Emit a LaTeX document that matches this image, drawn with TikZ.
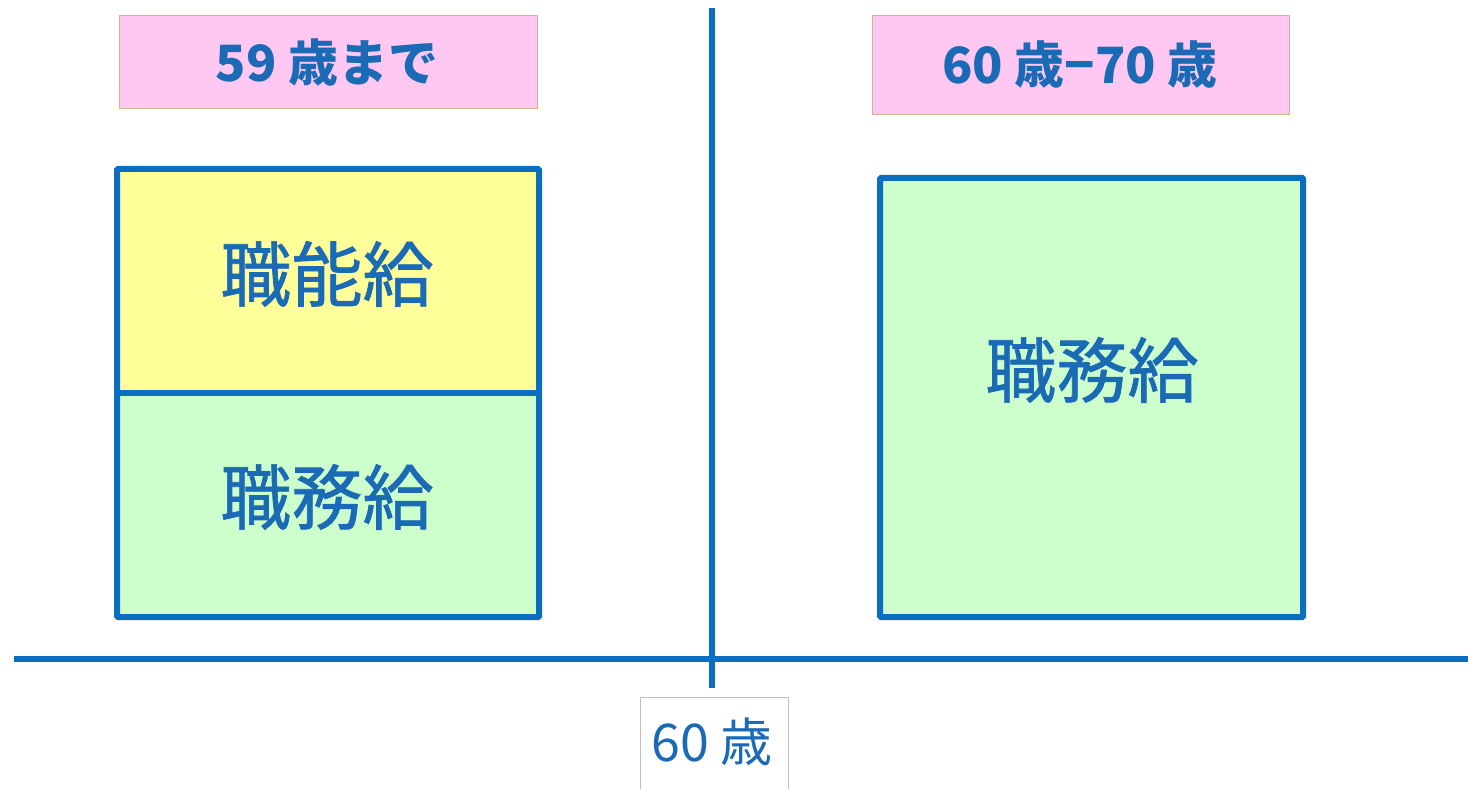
\documentclass[tikz,border=0pt]{standalone}
\usepackage{fontspec}
\newfontfamily\cjk{Noto Sans CJK JP}
\newfontfamily\cjkmed[FakeBold=1.0]{Noto Sans CJK JP}
\definecolor{lineblue}{HTML}{0A6EC0}
\definecolor{textblue}{HTML}{1A6AB5}
\definecolor{pinkfill}{HTML}{FFC8F2}
\definecolor{pinkedge}{HTML}{D2B48C}
\definecolor{yellowfill}{HTML}{FFFF99}
\definecolor{greenfill}{HTML}{CCFFCC}
\begin{document}
\begin{tikzpicture}[x=1pt,y=-1pt,
  agebox/.style={draw=pinkedge, line width=1pt, fill=pinkfill},
  paybox/.style={draw=lineblue, line width=6pt, rounded corners=1pt},
  axis/.style={draw=lineblue, line width=6pt},
  lbl/.style={text=textblue},
  headfont/.style={font=\cjk\bfseries\fontsize{50}{54}\selectfont},
  bodyfont/.style={font=\cjkmed\fontsize{71}{75}\selectfont},
]
\useasboundingbox (0,0) rectangle (1468,789);
% age headers
\path[agebox] (119,16) rectangle (537,109);
\node[lbl, headfont] (h1) at (327,63) {59 歳まで};
\path[agebox] (872,16) rectangle (1289,115);
\node[lbl, headfont] (h2) at (1080,65) {60 歳−70 歳};
% left stack
\path[fill=yellowfill] (117,169) rectangle (539,393);
\path[fill=greenfill] (117,393) rectangle (539,617);
\draw[paybox] (117,169) rectangle (539,617);
\draw[draw=lineblue, line width=6pt] (117,393) -- (539,393);
\node[lbl, bodyfont] (s1) at (327,274) {職能給};
\node[lbl, bodyfont] (s2) at (327,497) {職務給};
% right box
\draw[paybox, fill=greenfill] (880,178) rectangle (1303,617);
\node[lbl, bodyfont] (s3) at (1092,370) {職務給};
% axes
\coordinate (hl) at (14,659);
\coordinate (hr) at (1468,659);
\coordinate (vt) at (712,8);
\coordinate (vb) at (712,688);
\draw[axis] (hl) -- (hr);
\draw[axis] (vt) -- (vb);
% bottom label
\path[draw=black!25, line width=0.8pt, fill=white] (640,697) rectangle (788,792);
\node[lbl, font=\cjk\fontsize{52}{56}\selectfont] (b1) at (712,742) {60 歳};
\end{tikzpicture}
\end{document}
